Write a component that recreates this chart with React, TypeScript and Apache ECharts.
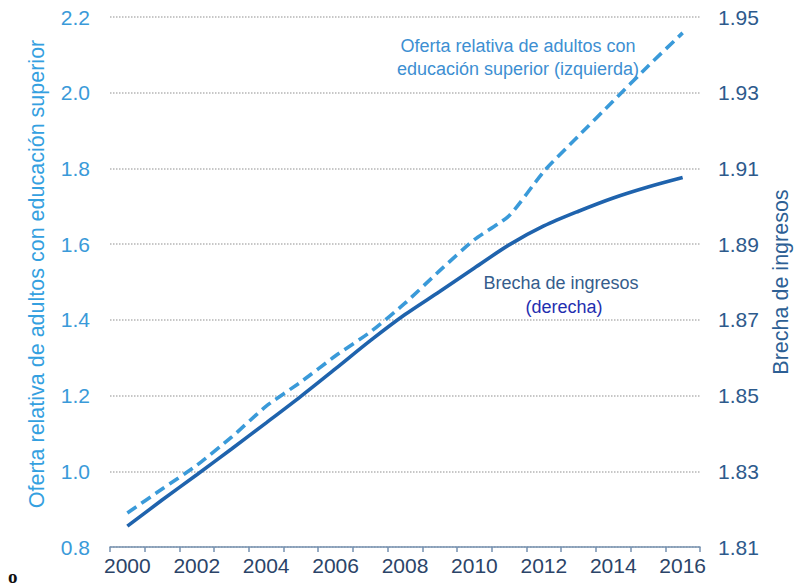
import React, { useEffect, useRef } from "react";
import * as echarts from "echarts";

const years = ["2000","2001","2002","2003","2004","2005","2006","2007","2008","2009","2010","2011","2012","2013","2014","2015","2016"];
// Left axis: relative supply of adults with higher education
const ofertaRelativa = [0.89, 0.953, 1.016, 1.09, 1.172, 1.236, 1.305, 1.368, 1.444, 1.53, 1.612, 1.675, 1.792, 1.886, 1.978, 2.07, 2.158];
// Right axis: income gap
const brechaIngresos = [1.8155, 1.8224, 1.8291, 1.8359, 1.8428, 1.8498, 1.8571, 1.8645, 1.8714, 1.8775, 1.8837, 1.8898, 1.8948, 1.8987, 1.9022, 1.9051, 1.9076];

const leftName = "Oferta relativa de adultos con educación superior";
const rightName = "Brecha de ingresos";
const note1 = ["Oferta relativa de adultos con", "educación superior (izquierda)"];
const note2a = "Brecha de ingresos";
const note2b = "(derecha)";

const FONT = "'Liberation Sans', Arial, sans-serif";
const LIGHT = "#3a9ad9";
const DARK = "#1f63ad";

export default function App() {
  const ref = useRef<HTMLDivElement>(null);
  useEffect(() => {
    if (!ref.current) return;
    const chart = echarts.init(ref.current, undefined, { renderer: "svg" });
    chart.setOption({
      animation: false,
      backgroundColor: "#ffffff",
      textStyle: { fontFamily: FONT },
      grid: { left: 110, right: 96, top: 17, bottom: 38, containLabel: false },
      xAxis: {
        type: "category",
        data: years,
        boundaryGap: true,
        axisLine: { show: true, lineStyle: { color: "#7591b0", width: 1.5 } },
        axisTick: { show: true, interval: 0, length: 5, lineStyle: { color: "#7591b0", width: 1.5 } },
        axisLabel: { interval: 1, color: "#2b4468", fontSize: 21, margin: 8, fontFamily: FONT },
        splitLine: { show: false },
      },
      yAxis: [
        {
          type: "value",
          min: 0.8,
          max: 2.2,
          interval: 0.2,
          position: "left",
          name: leftName,
          nameLocation: "middle",
          nameRotate: 90,
          nameGap: 62,
          nameTextStyle: { color: "#34a0e0", fontSize: 21.5, fontFamily: FONT, padding: [0, 0, 0, 16] },
          axisLine: { show: false },
          axisTick: { show: false },
          axisLabel: {
            color: "#3a9ad9",
            fontSize: 21,
            margin: 20,
            fontFamily: FONT,
            formatter: (v: number) => v.toFixed(1),
          },
          splitLine: { show: true, lineStyle: { color: "#b5b5b5", type: "dotted", width: 1.5 } },
        },
        {
          type: "value",
          min: 1.81,
          max: 1.95,
          interval: 0.02,
          position: "right",
          name: rightName,
          nameLocation: "middle",
          nameRotate: 90,
          nameGap: 70,
          nameTextStyle: { color: "#2d5f94", fontSize: 21.5, fontFamily: FONT },
          axisLine: { show: false },
          axisTick: { show: false },
          axisLabel: {
            color: "#2d5a8c",
            fontSize: 21,
            margin: 18,
            fontFamily: FONT,
            formatter: (v: number) => v.toFixed(2),
          },
          splitLine: { show: false },
        },
      ],
      series: [
        {
          name: "Oferta relativa",
          type: "line",
          yAxisIndex: 0,
          data: ofertaRelativa,
          showSymbol: false,
          smooth: 0.2,
          lineStyle: { color: LIGHT, width: 3.6, type: [11, 6] },
        },
        {
          name: "Brecha de ingresos",
          type: "line",
          yAxisIndex: 1,
          data: brechaIngresos,
          showSymbol: false,
          smooth: 0.3,
          lineStyle: { color: DARK, width: 3.6 },
        },
      ],
      graphic: [
        {
          type: "text",
          x: 518,
          y: 34,
          style: {
            text: note1.join("\n"),
            fill: "#3d8fd2",
            font: `18px ${FONT}`,
            align: "center",
            verticalAlign: "top",
            lineHeight: 23,
          } as any,
        },
        {
          type: "text",
          x: 561,
          y: 283,
          style: { text: note2a, fill: "#355d8c", font: `18px ${FONT}`, align: "center", verticalAlign: "middle" },
        },
        {
          type: "text",
          x: 564,
          y: 307,
          style: { text: note2b, fill: "#1f2fb0", font: `18px ${FONT}`, align: "center", verticalAlign: "middle" },
        },
        {
          type: "text",
          x: 8,
          y: 576,
          style: { text: "o", fill: "#111111", font: `bold 19px 'Liberation Serif', serif`, align: "left", verticalAlign: "middle" },
        },
      ],
    });
    return () => chart.dispose();
  }, []);
  return <div ref={ref} style={{ width: 800, height: 585, position: "absolute", left: 0, top: 0 }} />;
}
